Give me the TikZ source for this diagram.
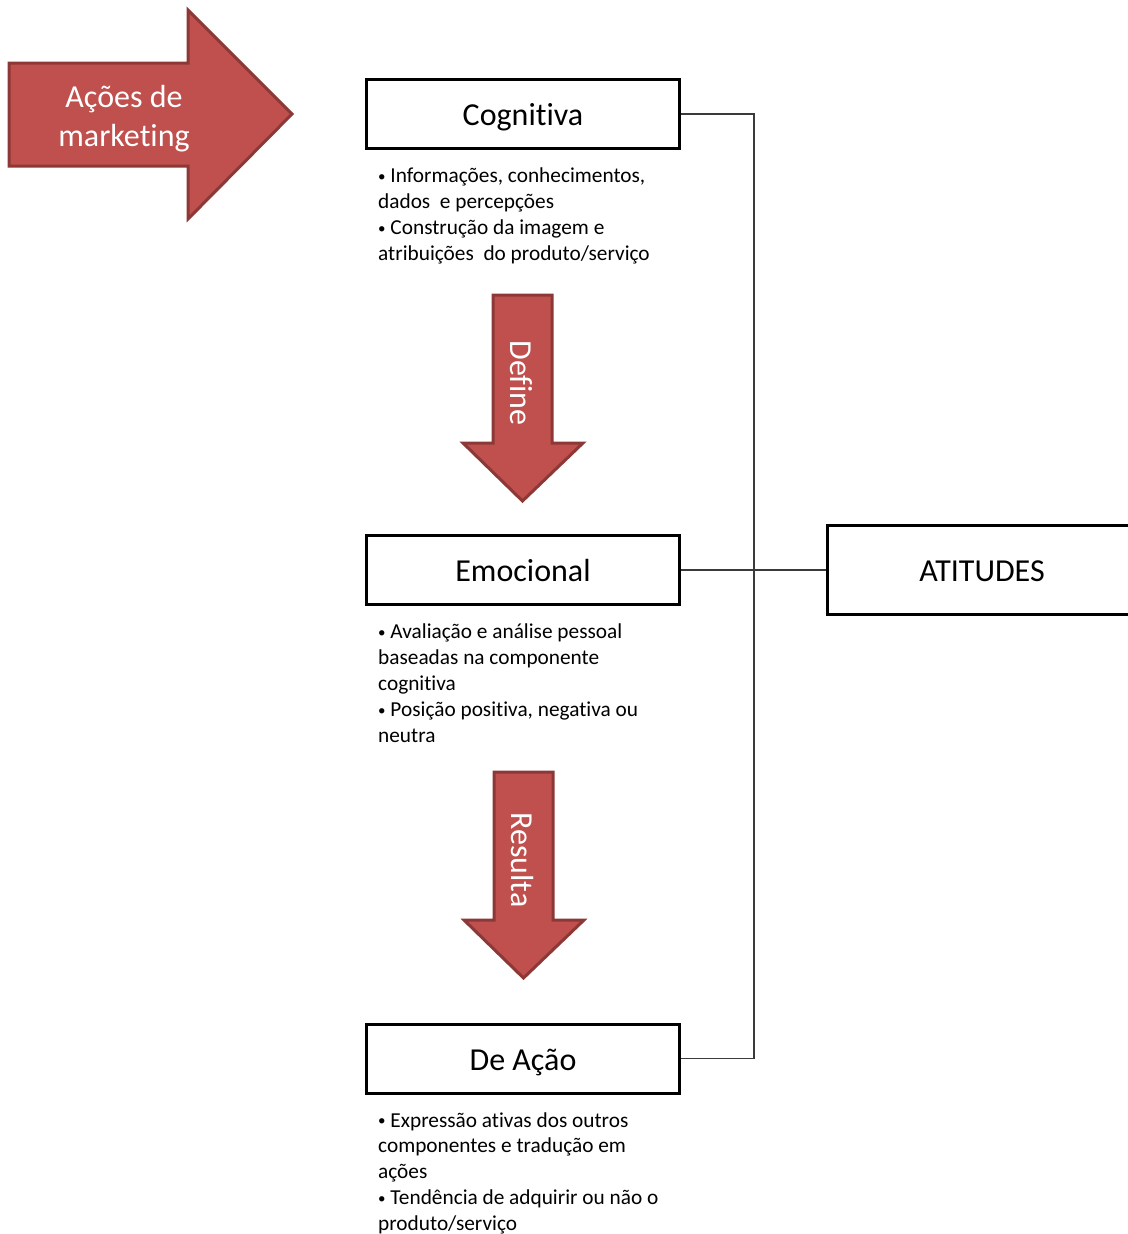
\documentclass[tikz,border=0pt]{standalone}
\usepackage{fontspec}
\setmainfont{Carlito}[Ligatures=NoCommon]
\definecolor{arrowfill}{HTML}{C0504D}
\definecolor{arrowedge}{HTML}{8C3836}
\definecolor{linkgray}{HTML}{3A3A3A}
\newcommand{\bul}{{\fontsize{15}{15}\selectfont\raisebox{1.2pt}{\textbullet}}}
\begin{document}
\begin{tikzpicture}[x=1pt,y=-1pt,
  levelbox/.style={draw=black,line width=3pt,fill=white,minimum width=313pt,minimum height=69pt,inner sep=0pt,text height=30pt,text depth=7pt,font=\fontsize{32}{36}\selectfont},
  notes/.style={anchor=north west,inner sep=0pt,align=left,font=\fontsize{21.3}{25.8}\selectfont},
  bigarrow/.style={fill=arrowfill,draw=arrowedge,line width=3pt,line join=miter},
  link/.style={draw=linkgray,line width=1.3pt},
  arrowlabel/.style={text=white,font=\fontsize{32}{36}\selectfont,rotate=-90,inner sep=0pt}]
\useasboundingbox (0,0) rectangle (1127,1234);

% marketing actions arrow
\path[bigarrow] (9,63) -- (188,63) -- (188,10) -- (292,114) -- (188,219) -- (188,166) -- (9,166) -- cycle;
\node[text=white,align=center,font=\fontsize{32}{39}\selectfont] (mkt) at (124,118.5) {Ações de\\marketing};

% three components
\node[levelbox] (cog) at (523,114) {Cognitiva};
\node[levelbox] (emo) at (523,570) {Emocional};
\node[levelbox] (acao) at (523,1058.5) {De Ação};
\node[levelbox,minimum width=310pt,minimum height=89pt] (att) at (982,570) {ATITUDES};

% descriptions
\node[notes] (cogtxt) at (378,168) {\bul{} Informações, conhecimentos,\\dados\ \ e percepções\\\bul{} Construção da imagem e\\atribuições\ \ do produto/serviço};
\node[notes] (emotxt) at (378,624) {\bul{} Avaliação e análise pessoal\\baseadas na componente\\cognitiva\\\bul{} Posição positiva, negativa ou\\neutra};
\node[notes] (acaotxt) at (378,1112) {\bul{} Expressão ativas dos outros\\componentes e tradução em\\ações\\\bul{} Tendência de adquirir ou não o\\produto/serviço};

% down arrows between components
\path[bigarrow] (493,295) -- (552,295) -- (552,443) -- (583,443) -- (522.5,501) -- (463,443) -- (493,443) -- cycle;
\node[arrowlabel] (def) at (521,383) {Define};
\path[bigarrow] (494,772) -- (553,772) -- (553,920) -- (584,920) -- (523.5,978) -- (464,920) -- (494,920) -- cycle;
\node[arrowlabel] (res) at (522,860) {Resulta};

% links to attitudes
\coordinate (bus) at (754,114);
\draw[link] (cog.east) -- (bus) |- (acao.east);
\draw[link] (emo.east) -- (att.west);
\end{tikzpicture}
\end{document}
